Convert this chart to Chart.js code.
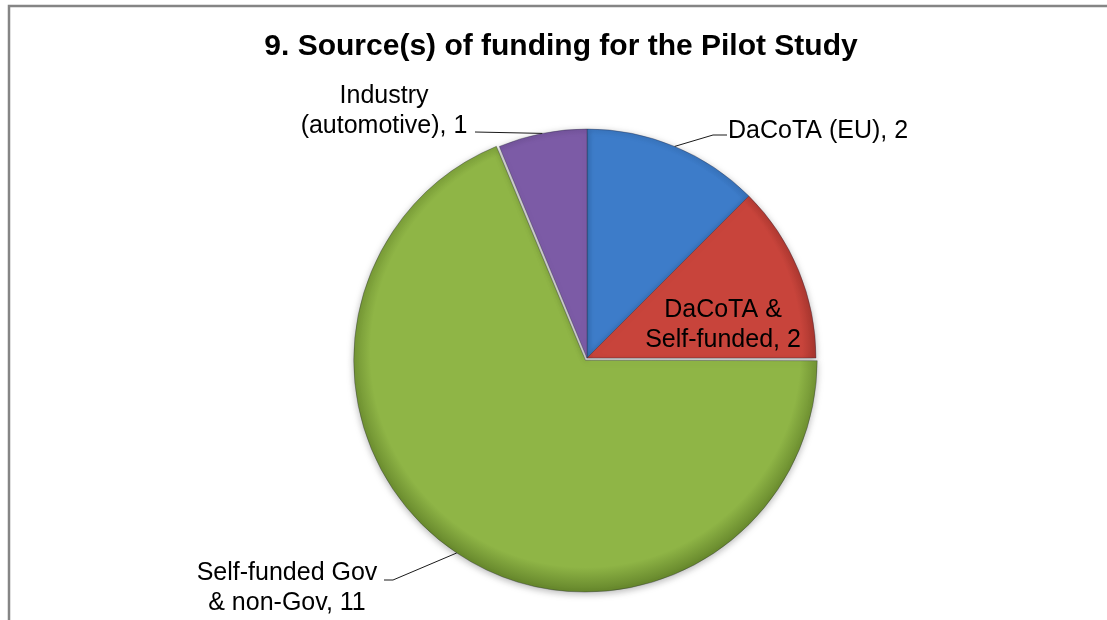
<!DOCTYPE html>
<html>
<head>
<meta charset="utf-8">
<title>Source(s) of funding for the Pilot Study</title>
<script src="https://cdn.jsdelivr.net/npm/chart.js@4.4.1/dist/chart.umd.min.js"></script>
<style>
    html, body { margin: 0; padding: 0; background: #fff; }
    #wrap { width: 1107px; height: 620px; }
</style>
</head>
<body>
<div id="wrap"><canvas id="fundingPie" width="1107" height="620"></canvas></div>
<script>
const chartTitle = '9. Source(s) of funding for the Pilot Study';
const categories = ['DaCoTA (EU)', 'DaCoTA & Self-funded', 'Self-funded Gov & non-Gov', 'Industry (automotive)'];
const categoryLines = [['DaCoTA (EU)'], ['DaCoTA &', 'Self-funded'], ['Self-funded Gov', '& non-Gov'], ['Industry', '(automotive)']];
const studyCounts = [2, 2, 11, 1];

const sliceColors = ['#3d7cc9', '#c8443b', '#8fb546', '#7c5ba6'];
const rimColors = ['#2b5c9a', '#8e2b25', '#66872c', '#573d7d'];

const FONT = "'Liberation Sans', Arial, sans-serif";
const PIE_RADIUS = 229;

// where each data label sits, and the bend points of its leader line
const labelLayout = [
    { x: 728, y: 138, align: 'left', leader: [[713, 135], [727, 135]] },
    { x: 723, y: 317, align: 'center', leader: null },
    { x: 287, y: 580, align: 'center', leader: [[393, 580], [384, 580]] },
    { x: 384, y: 103, align: 'center', leader: [[475, 132]] }
];

// flat colour with a darker rim, heavier toward the bottom of the pie
function sliceFill(context) {
    const i = context.dataIndex;
    const area = context.chart.chartArea;
    if (!area) return sliceColors[i];
    const cx = (area.left + area.right) / 2;
    const cy = (area.top + area.bottom) / 2 - 8;
    const outer = PIE_RADIUS + 10;
    const g = context.chart.ctx.createRadialGradient(cx, cy, 0, cx, cy, outer);
    g.addColorStop(0, sliceColors[i]);
    g.addColorStop((PIE_RADIUS - 14) / outer, sliceColors[i]);
    g.addColorStop(1, rimColors[i]);
    return g;
}

const backgroundBox = {
    id: 'backgroundBox',
    beforeDraw(chart) {
        const ctx = chart.ctx;
        ctx.save();
        ctx.fillStyle = '#ffffff';
        ctx.fillRect(0, 0, chart.width, chart.height);
        ctx.strokeStyle = '#858585';
        ctx.lineWidth = 2.5;
        ctx.strokeRect(9, 6, chart.width + 20, chart.height + 20);
        ctx.restore();
    },
    afterDraw(chart) {
        const ctx = chart.ctx;
        ctx.save();
        ctx.fillStyle = '#000';
        ctx.font = 'bold 30px ' + FONT;
        ctx.textAlign = 'center';
        ctx.textBaseline = 'alphabetic';
        ctx.fillText(chartTitle, 561, 55);
        ctx.restore();
    }
};

const pieShadow = {
    id: 'pieShadow',
    beforeDatasetsDraw(chart) {
        const ctx = chart.ctx;
        ctx.save();
        ctx.shadowColor = 'rgba(0,0,0,0.28)';
        ctx.shadowBlur = 7;
        ctx.shadowOffsetY = 2;
    },
    afterDatasetsDraw(chart) {
        chart.ctx.restore();
    }
};

const sliceLabels = {
    id: 'sliceLabels',
    afterDatasetsDraw(chart) {
        const ctx = chart.ctx;
        const arcs = chart.getDatasetMeta(0).data;
        ctx.save();
        ctx.font = '25px ' + FONT;
        ctx.fillStyle = '#000';
        ctx.strokeStyle = '#1a1a1a';
        ctx.lineWidth = 1;
        ctx.textBaseline = 'alphabetic';

        arcs.forEach((arc, i) => {
            const pos = labelLayout[i];
            const lines = categoryLines[i].slice();
            lines[lines.length - 1] += ', ' + studyCounts[i];

            if (pos.leader) {
                const p = arc.getProps(['x', 'y', 'startAngle', 'endAngle', 'outerRadius', 'circumference']);
                const mid = (p.startAngle + p.endAngle) / 2;
                // same shift the arc element applies for its offset option
                const off = (arc.options.offset || 0) / 4;
                const fix = 1 - Math.sin(Math.min(Math.PI, p.circumference || 0));
                const r = p.outerRadius + off + off * fix;
                ctx.beginPath();
                ctx.moveTo(p.x + Math.cos(mid) * r, p.y + Math.sin(mid) * r);
                pos.leader.forEach(pt => ctx.lineTo(pt[0], pt[1]));
                ctx.stroke();
            }

            ctx.textAlign = pos.align;
            lines.forEach((txt, k) => ctx.fillText(txt, pos.x, pos.y + k * 30));
        });
        ctx.restore();
    }
};

const fundingChart = new Chart(document.getElementById('fundingPie'), {
    type: 'pie',
    data: {
        labels: categories,
        datasets: [{
            data: studyCounts,
            backgroundColor: sliceFill,
            borderColor: 'rgba(40,40,60,0.35)',
            borderWidth: 1,
            offset: [0, 0, 11, 0]
        }]
    },
    options: {
        responsive: false,
        animation: false,
        events: [],
        radius: PIE_RADIUS,
        layout: { padding: { left: 67, right: 0, top: 96, bottom: 0 } },
        plugins: {
            legend: { display: false },
            title: { display: false },
            tooltip: { enabled: false }
        }
    },
    plugins: [backgroundBox, pieShadow, sliceLabels]
});
</script>
</body>
</html>
